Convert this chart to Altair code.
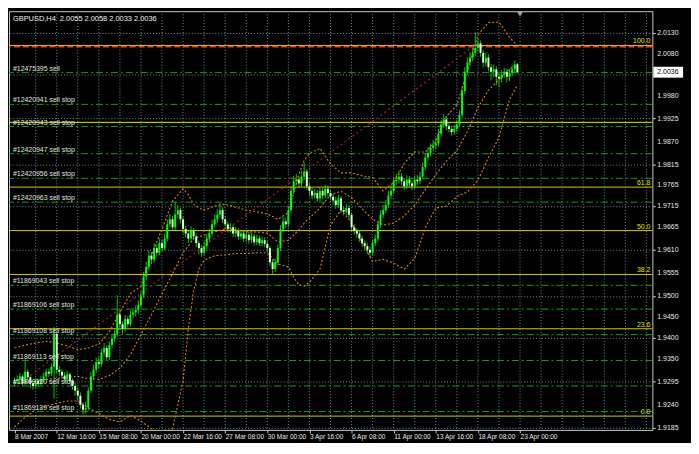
import altair as alt
import pandas as pd

# ---------------- data ----------------
close = [1.9297, 1.9301, 1.9308, 1.9292, 1.9319, 1.9306, 1.9292, 1.9285, 1.9297, 1.9290,
         1.9301, 1.9308, 1.9319, 1.9315, 1.9331, 1.9410, 1.9324, 1.9319, 1.9310, 1.9301,
         1.9313, 1.9297, 1.9285, 1.9274, 1.9262, 1.9240, 1.9228, 1.9233, 1.9274, 1.9308,
         1.9324, 1.9342, 1.9338, 1.9365, 1.9376, 1.9354, 1.9383, 1.9399, 1.9410, 1.9456,
         1.9433, 1.9422, 1.9445, 1.9433, 1.9456, 1.9461, 1.9467, 1.9479, 1.9502, 1.9547,
         1.9570, 1.9597, 1.9588, 1.9615, 1.9604, 1.9627, 1.9615, 1.9638, 1.9672, 1.9684,
         1.9665, 1.9695, 1.9706, 1.9684, 1.9661, 1.9650, 1.9638, 1.9656, 1.9643, 1.9627,
         1.9615, 1.9604, 1.9620, 1.9638, 1.9650, 1.9672, 1.9684, 1.9695, 1.9706, 1.9684,
         1.9672, 1.9661, 1.9665, 1.9650, 1.9656, 1.9643, 1.9650, 1.9638, 1.9647, 1.9634,
         1.9643, 1.9629, 1.9638, 1.9627, 1.9634, 1.9625, 1.9615, 1.9581, 1.9565, 1.9581,
         1.9615, 1.9661, 1.9679, 1.9672, 1.9706, 1.9752, 1.9775, 1.9779, 1.9770, 1.9786,
         1.9798, 1.9763, 1.9752, 1.9741, 1.9747, 1.9734, 1.9752, 1.9741, 1.9757, 1.9747,
         1.9738, 1.9729, 1.9718, 1.9734, 1.9706, 1.9702, 1.9711, 1.9695, 1.9665, 1.9656,
         1.9650, 1.9638, 1.9627, 1.9620, 1.9611, 1.9604, 1.9627, 1.9638, 1.9672, 1.9695,
         1.9706, 1.9718, 1.9741, 1.9752, 1.9775, 1.9779, 1.9786, 1.9775, 1.9763, 1.9779,
         1.9770, 1.9763, 1.9779, 1.9775, 1.9786, 1.9809, 1.9832, 1.9843, 1.9855, 1.9861,
         1.9866, 1.9889, 1.9911, 1.9923, 1.9907, 1.9900, 1.9893, 1.9900, 1.9911, 1.9934,
         1.9991, 2.0037, 2.0059, 2.0071, 2.0082, 2.0094, 2.0105, 2.0082, 2.0059, 2.0071,
         2.0048, 2.0037, 2.0043, 2.0025, 2.0021, 2.0030, 2.0037, 2.0025, 2.0034, 2.0043,
         2.0055, 2.0036]

open_ = [1.9290, 1.9297, 1.9301, 1.9308, 1.9292, 1.9319, 1.9306, 1.9292, 1.9285, 1.9297,
         1.9290, 1.9301, 1.9308, 1.9319, 1.9315, 1.9331, 1.9410, 1.9324, 1.9319, 1.9310,
         1.9301, 1.9313, 1.9297, 1.9285, 1.9274, 1.9262, 1.9240, 1.9228, 1.9233, 1.9274,
         1.9308, 1.9324, 1.9342, 1.9338, 1.9365, 1.9376, 1.9354, 1.9383, 1.9399, 1.9410,
         1.9456, 1.9433, 1.9422, 1.9445, 1.9433, 1.9456, 1.9461, 1.9467, 1.9479, 1.9502,
         1.9547, 1.9570, 1.9597, 1.9588, 1.9615, 1.9604, 1.9627, 1.9615, 1.9638, 1.9672,
         1.9684, 1.9665, 1.9695, 1.9706, 1.9684, 1.9661, 1.9650, 1.9638, 1.9656, 1.9643,
         1.9627, 1.9615, 1.9604, 1.9620, 1.9638, 1.9650, 1.9672, 1.9684, 1.9695, 1.9706,
         1.9684, 1.9672, 1.9661, 1.9665, 1.9650, 1.9656, 1.9643, 1.9650, 1.9638, 1.9647,
         1.9634, 1.9643, 1.9629, 1.9638, 1.9627, 1.9634, 1.9625, 1.9615, 1.9581, 1.9565,
         1.9581, 1.9615, 1.9661, 1.9679, 1.9672, 1.9706, 1.9752, 1.9775, 1.9779, 1.9770,
         1.9786, 1.9798, 1.9763, 1.9752, 1.9741, 1.9747, 1.9734, 1.9752, 1.9741, 1.9757,
         1.9747, 1.9738, 1.9729, 1.9718, 1.9734, 1.9706, 1.9702, 1.9711, 1.9695, 1.9665,
         1.9656, 1.9650, 1.9638, 1.9627, 1.9620, 1.9611, 1.9604, 1.9627, 1.9638, 1.9672,
         1.9695, 1.9706, 1.9718, 1.9741, 1.9752, 1.9775, 1.9779, 1.9786, 1.9775, 1.9763,
         1.9779, 1.9770, 1.9763, 1.9779, 1.9775, 1.9786, 1.9809, 1.9832, 1.9843, 1.9855,
         1.9861, 1.9866, 1.9889, 1.9911, 1.9923, 1.9907, 1.9900, 1.9893, 1.9900, 1.9911,
         1.9934, 1.9991, 2.0037, 2.0059, 2.0071, 2.0082, 2.0094, 2.0105, 2.0082, 2.0059,
         2.0071, 2.0048, 2.0037, 2.0043, 2.0025, 2.0021, 2.0030, 2.0037, 2.0025, 2.0034,
         2.0043, 2.0055]

high = [1.9305, 1.9310, 1.9316, 1.9313, 1.9349, 1.9325, 1.9311, 1.9298, 1.9304, 1.9303,
        1.9309, 1.9317, 1.9327, 1.9326, 1.9338, 1.9426, 1.9415, 1.9333, 1.9326, 1.9318,
        1.9322, 1.9318, 1.9303, 1.9292, 1.9281, 1.9270, 1.9246, 1.9247, 1.9282, 1.9318,
        1.9336, 1.9353, 1.9355, 1.9374, 1.9388, 1.9383, 1.9392, 1.9408, 1.9420, 1.9502,
        1.9468, 1.9440, 1.9455, 1.9452, 1.9466, 1.9472, 1.9478, 1.9490, 1.9512, 1.9558,
        1.9583, 1.9610, 1.9606, 1.9627, 1.9624, 1.9638, 1.9636, 1.9650, 1.9683, 1.9697,
        1.9692, 1.9725, 1.9718, 1.9712, 1.9690, 1.9668, 1.9658, 1.9667, 1.9663, 1.9650,
        1.9633, 1.9622, 1.9631, 1.9648, 1.9662, 1.9683, 1.9696, 1.9708, 1.9722, 1.9713,
        1.9692, 1.9679, 1.9675, 1.9672, 1.9666, 1.9663, 1.9659, 1.9657, 1.9656, 1.9654,
        1.9652, 1.9650, 1.9647, 1.9645, 1.9643, 1.9641, 1.9632, 1.9620, 1.9588, 1.9590,
        1.9624, 1.9670, 1.9690, 1.9688, 1.9716, 1.9763, 1.9788, 1.9793, 1.9787, 1.9800,
        1.9820, 1.9804, 1.9772, 1.9760, 1.9757, 1.9754, 1.9761, 1.9759, 1.9767, 1.9765,
        1.9754, 1.9745, 1.9737, 1.9743, 1.9740, 1.9714, 1.9720, 1.9718, 1.9700, 1.9672,
        1.9663, 1.9657, 1.9645, 1.9634, 1.9627, 1.9618, 1.9636, 1.9648, 1.9681, 1.9706,
        1.9718, 1.9730, 1.9752, 1.9765, 1.9786, 1.9792, 1.9800, 1.9795, 1.9782, 1.9789,
        1.9787, 1.9778, 1.9788, 1.9790, 1.9797, 1.9820, 1.9843, 1.9856, 1.9866, 1.9874,
        1.9880, 1.9900, 1.9922, 1.9936, 1.9930, 1.9915, 1.9908, 1.9910, 1.9921, 1.9945,
        2.0002, 2.0048, 2.0072, 2.0084, 2.0096, 2.0132, 2.0118, 2.0112, 2.0090, 2.0083,
        2.0079, 2.0056, 2.0054, 2.0050, 2.0034, 2.0041, 2.0047, 2.0045, 2.0044, 2.0052,
        2.0064, 2.0058]

low = [1.9283, 1.9290, 1.9295, 1.9286, 1.9288, 1.9299, 1.9281, 1.9276, 1.9280, 1.9282,
       1.9286, 1.9295, 1.9302, 1.9307, 1.9310, 1.9255, 1.9315, 1.9309, 1.9302, 1.9293,
       1.9295, 1.9289, 1.9276, 1.9262, 1.9251, 1.9231, 1.9217, 1.9219, 1.9226, 1.9268,
       1.9299, 1.9316, 1.9327, 1.9331, 1.9356, 1.9345, 1.9348, 1.9375, 1.9390, 1.9403,
       1.9424, 1.9410, 1.9416, 1.9425, 1.9428, 1.9447, 1.9452, 1.9458, 1.9472, 1.9495,
       1.9538, 1.9562, 1.9577, 1.9580, 1.9595, 1.9598, 1.9606, 1.9609, 1.9631, 1.9664,
       1.9656, 1.9658, 1.9686, 1.9674, 1.9650, 1.9640, 1.9627, 1.9630, 1.9634, 1.9617,
       1.9600, 1.9594, 1.9598, 1.9612, 1.9630, 1.9643, 1.9664, 1.9676, 1.9688, 1.9675,
       1.9662, 1.9652, 1.9653, 1.9641, 1.9642, 1.9634, 1.9636, 1.9629, 1.9630, 1.9625,
       1.9627, 1.9621, 1.9622, 1.9619, 1.9620, 1.9617, 1.9606, 1.9572, 1.9552, 1.9558,
       1.9574, 1.9608, 1.9653, 1.9663, 1.9665, 1.9698, 1.9744, 1.9766, 1.9760, 1.9762,
       1.9778, 1.9755, 1.9742, 1.9732, 1.9733, 1.9725, 1.9727, 1.9732, 1.9733, 1.9739,
       1.9729, 1.9720, 1.9709, 1.9711, 1.9698, 1.9693, 1.9695, 1.9686, 1.9656, 1.9647,
       1.9640, 1.9630, 1.9618, 1.9611, 1.9601, 1.9593, 1.9598, 1.9620, 1.9631, 1.9664,
       1.9687, 1.9698, 1.9711, 1.9733, 1.9745, 1.9766, 1.9770, 1.9765, 1.9754, 1.9756,
       1.9761, 1.9754, 1.9757, 1.9766, 1.9768, 1.9779, 1.9802, 1.9824, 1.9835, 1.9846,
       1.9852, 1.9858, 1.9882, 1.9903, 1.9897, 1.9891, 1.9884, 1.9886, 1.9893, 1.9905,
       1.9928, 1.9984, 2.0029, 2.0050, 2.0062, 2.0075, 2.0086, 2.0073, 2.0048, 2.0050,
       2.0038, 2.0016, 2.0025, 2.0005, 2.0000, 2.0012, 2.0022, 2.0012, 2.0015, 2.0026,
       2.0034, 2.0033]

# Bollinger-style bands (bar index, price)
band_idx = [0, 4, 8, 12, 16, 20, 24, 28, 32, 36, 40, 44, 48, 52, 56, 60, 64, 66, 68,
            70, 72, 76, 80, 84, 88, 92, 96, 100, 104, 106, 108, 110, 112, 116, 120, 124,
            128, 132, 136, 140, 144, 148, 152, 156, 160, 164, 168, 172, 176, 180, 184,
            188, 191]
band_upper = [1.9376, 1.9383, 1.9388, 1.9392, 1.9388, 1.9381, 1.9372, 1.9376, 1.9385,
              1.9415, 1.9461, 1.9506, 1.9524, 1.9599, 1.9661, 1.9727, 1.9757, 1.9743,
              1.9720, 1.9711, 1.9706, 1.9716, 1.9720, 1.9713, 1.9706, 1.9702, 1.9697,
              1.9684, 1.9700, 1.9747, 1.9791, 1.9825, 1.9841, 1.9854, 1.9816, 1.9795,
              1.9795, 1.9788, 1.9784, 1.9752, 1.9772, 1.9818, 1.9845, 1.9845, 1.9870,
              1.9930, 1.9957, 2.0039, 2.0125, 2.0155, 2.0156, 2.0119, 2.0100]
band_middle = [1.9292, 1.9294, 1.9297, 1.9301, 1.9303, 1.9306, 1.9308, 1.9303, 1.9301,
               1.9310, 1.9328, 1.9360, 1.9408, 1.9456, 1.9506, 1.9554, 1.9604, 1.9620,
               1.9638, 1.9642, 1.9646, 1.9654, 1.9661, 1.9659, 1.9654, 1.9654, 1.9651,
               1.9630, 1.9634, 1.9646, 1.9659, 1.9675, 1.9687, 1.9711, 1.9743, 1.9751,
               1.9736, 1.9709, 1.9684, 1.9670, 1.9675, 1.9692, 1.9718, 1.9755, 1.9791,
               1.9823, 1.9848, 1.9894, 1.9951, 1.9993, 2.0018, 2.0044, 2.0053]
band_lower = [1.9187, 1.9210, 1.9228, 1.9237, 1.9244, 1.9249, 1.9249, 1.9233, 1.9219,
              1.9205, 1.9199, 1.9215, 1.9201, 1.9183, 1.9171, 1.9183, 1.9297, 1.9422,
              1.9513, 1.9565, 1.9586, 1.9597, 1.9599, 1.9602, 1.9602, 1.9604, 1.9604,
              1.9577, 1.9570, 1.9545, 1.9527, 1.9524, 1.9533, 1.9565, 1.9670, 1.9706,
              1.9677, 1.9629, 1.9583, 1.9588, 1.9579, 1.9565, 1.9590, 1.9663, 1.9711,
              1.9716, 1.9738, 1.9750, 1.9777, 1.9832, 1.9880, 1.9971, 2.0005]

# straight red dotted trend line (two end points)
trend_idx = [0, 175.5]
trend_price = [1.9283, 2.0103]

# order lines
order_labels = ["#12475395 sell", "#12420941 sell stop", "#12420943 sell stop",
                "#12420947 sell stop", "#12420956 sell stop", "#12420963 sell stop",
                "#11869043 sell stop", "#11869106 sell stop", "#11869108 sell stop",
                "#11869113 sell stop", "#11869130 sell stop", "#11869139 sell stop"]
order_prices = [2.0035, 1.9959, 1.9906, 1.9841, 1.9782, 1.9725,
                1.9526, 1.9469, 1.9408, 1.9346, 1.9285, 1.9224]

# Fibonacci levels
fib_labels = ["100.0", "61.8", "50.0", "38.2", "23.6", "0.0"]
fib_prices = [2.0100, 1.9761, 1.9657, 1.9552, 1.9422, 1.9213]

yellow_line_price = [1.9916]
red_line_price = [2.0097]

current_price = [2.0036]
current_label = ["2.0036"]
title_text = "GBPUSD,H4\u00a0\u00a02.0055 2.0058 2.0033 2.0036"

y_ticks = [1.9185, 1.9240, 1.9295, 1.9350, 1.9400, 1.9450, 1.9500, 1.9555, 1.9610,
           1.9665, 1.9715, 1.9765, 1.9815, 1.9870, 1.9925, 1.9980, 2.0030, 2.0080, 2.0130]
y_tick_labels = ["1.9185", "1.9240", "1.9295", "1.9350", "1.9400", "1.9450", "1.9500",
                 "1.9555", "1.9610", "1.9665", "1.9715", "1.9765", "1.9815", "1.9870",
                 "1.9925", "1.9980", "", "2.0080", "2.0130"]
x_tick_idx = [0, 16, 32, 48, 64, 80, 96, 112, 128, 144, 160, 176, 192]
x_tick_labels = ["8 Mar 2007", "12 Mar 16:00", "15 Mar 08:00", "20 Mar 00:00",
                 "22 Mar 16:00", "27 Mar 08:00", "30 Mar 00:00", "3 Apr 16:00",
                 "6 Apr 08:00", "11 Apr 00:00", "13 Apr 16:00", "18 Apr 08:00",
                 "23 Apr 00:00"]
x_grid_idx = list(range(8, 241, 8))
shift_marker_idx = [192]

# ---------------- layout / style ----------------
W, H = 650, 423
FONT = "Liberation Sans"
FS = 7

xs = alt.Scale(domain=[-0.25, 240.4], nice=False, zero=False)
ys = alt.Scale(domain=[1.9180, 2.0182], nice=False, zero=False)

bars = pd.DataFrame({"i": list(range(len(close))), "open": open_, "high": high,
                     "low": low, "close": close})
bars["dir"] = ["up" if c >= o else "down" for o, c in zip(open_, close)]

bands = pd.DataFrame({"i": band_idx, "upper": band_upper, "middle": band_middle,
                      "lower": band_lower})
trend = pd.DataFrame({"i": trend_idx, "p": trend_price})
orders = pd.DataFrame({"label": order_labels, "p": order_prices})
fibs = pd.DataFrame({"label": fib_labels, "p": fib_prices})
ylines = pd.DataFrame({"p": yellow_line_price})
rlines = pd.DataFrame({"p": red_line_price})
cur = pd.DataFrame({"p": current_price, "label": current_label})
xgrid = pd.DataFrame({"i": x_grid_idx})
shift = pd.DataFrame({"i": shift_marker_idx})
ylab = pd.DataFrame({"p": y_ticks, "label": y_tick_labels})

label_arr = "[" + ",".join("'" + s + "'" for s in x_tick_labels) + "]"

x_axis = alt.Axis(values=x_tick_idx, labelExpr=label_arr + "[round(datum.value/16)]",
                  labelAlign="left", labelColor="#e8e8e8", labelFont=FONT,
                  labelFontSize=6.6, tickColor="#c8c8c8", tickSize=3, domain=False,
                  grid=False, title=None, labelPadding=1, labelFlush=False,
                  labelOverlap=False, labelBound=False)
y_axis = alt.Axis(values=y_ticks, orient="right", labels=False, tickColor="#c8c8c8",
                  tickSize=3, domain=False, grid=True, gridColor="#778899",
                  gridDash=[1, 2], gridWidth=1, title=None)


def X(field):
    return alt.X(field, scale=xs, title=None)


def Y(field):
    return alt.Y(field, scale=ys, title=None)


# axis carrier (candle wicks)
wicks = alt.Chart(bars).mark_rule(color="#00c800", strokeWidth=1).encode(
    x=alt.X("i:Q", scale=xs, axis=x_axis),
    y=alt.Y("low:Q", scale=ys, axis=y_axis),
    y2="high:Q")

vgrid = alt.Chart(xgrid).mark_rule(color="#778899", strokeDash=[1, 2], strokeWidth=1).encode(
    x=X("i:Q"))

fib_rules = alt.Chart(fibs).mark_rule(color="#d4cc00", strokeWidth=1).encode(y=Y("p:Q"))
fib_text = alt.Chart(fibs).mark_text(color="#e6e000", font=FONT, fontSize=FS, align="right",
                                     baseline="bottom", dy=-1).encode(
    x=alt.value(W - 2), y=Y("p:Q"), text="label:N")

yl = alt.Chart(ylines).mark_rule(color="#e8e800", strokeWidth=1).encode(y=Y("p:Q"))
rl = alt.Chart(rlines).mark_rule(color="#ff3a00", strokeWidth=1.5,
                                 strokeDash=[6, 3]).encode(y=Y("p:Q"))

order_rules = alt.Chart(orders).mark_rule(color="#14a014", strokeWidth=1,
                                          strokeDash=[7, 3, 2, 3]).encode(y=Y("p:Q"))
order_text = alt.Chart(orders).mark_text(color="#e0e0e0", font=FONT, fontSize=FS,
                                         align="left", baseline="bottom", dy=-1).encode(
    x=alt.value(4), y=Y("p:Q"), text="label:N")

band_style = dict(color="#d9801e", strokeDash=[2, 2], strokeWidth=1.1, clip=True)
b_up = alt.Chart(bands).mark_line(**band_style).encode(x=X("i:Q"), y=Y("upper:Q"))
b_mid = alt.Chart(bands).mark_line(**band_style).encode(x=X("i:Q"), y=Y("middle:Q"))
b_lo = alt.Chart(bands).mark_line(**band_style).encode(x=X("i:Q"), y=Y("lower:Q"))
tr = alt.Chart(trend).mark_line(color="#b02020", strokeDash=[2, 3], strokeWidth=1.2,
                                clip=True).encode(x=X("i:Q"), y=Y("p:Q"))

bodies = alt.Chart(bars).mark_bar(size=2).encode(
    x=X("i:Q"), y=Y("open:Q"), y2="close:Q",
    color=alt.Color("dir:N", scale=alt.Scale(domain=["up", "down"],
                                              range=["#00ff00", "#d8ffd8"]), legend=None))

ylabels = alt.Chart(ylab).mark_text(color="#e8e8e8", font=FONT, fontSize=FS, align="left",
                                    baseline="middle").encode(
    x=alt.value(W + 5), y=Y("p:Q"), text="label:N")

cur_box = alt.Chart(cur).mark_rule(color="white", strokeWidth=11, strokeCap="butt").encode(
    x=alt.value(W + 1), x2=alt.value(W + 31), y=Y("p:Q"))
cur_text = alt.Chart(cur).mark_text(color="black", font=FONT, fontSize=FS, align="left",
                                    baseline="middle").encode(
    x=alt.value(W + 5), y=Y("p:Q"), text="label:N")

shift_mark = alt.Chart(shift).mark_point(shape="triangle-down", filled=True, size=28,
                                         color="#a8a8a8", opacity=1).encode(
    x=X("i:Q"), y=alt.value(3))

title = alt.Chart(pd.DataFrame({"t": [title_text]})).mark_text(
    color="#f0f0f0", font=FONT, fontSize=7.5, align="left", baseline="middle").encode(
    x=alt.value(4), y=alt.value(8), text="t:N")

chart = alt.layer(
    wicks, vgrid, fib_rules, yl, order_rules, rl, b_up, b_mid, b_lo, tr,
    bodies, fib_text, order_text, ylabels, cur_box, cur_text, shift_mark, title
).properties(
    width=W, height=H, background="black",
    padding={"left": 0, "top": 0, "right": 2, "bottom": 0}
).configure_view(stroke="#c8c8c8", strokeWidth=1, fill="black")

chart.save("out.html", embed_options={"renderer": "svg", "actions": False})
